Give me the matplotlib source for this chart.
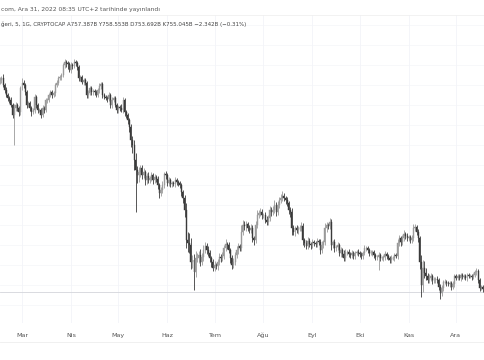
import matplotlib
matplotlib.use("Agg")
import matplotlib.pyplot as plt
import matplotlib.dates as mdates
import numpy as np
from datetime import datetime, timedelta

# daily candles, 15 Feb 2022 -> 18 Dec 2022, market cap in billions
start = datetime(2022, 2, 15)
first_open = 2020
close = [
    2027, 2039, 1997, 1967, 1937, 1919, 1907, 1877, 1817, 1859,
    1877, 1859, 1835, 1979, 2009, 1997, 1955, 1877, 1889, 1859,
    1835, 1847, 1925, 1877, 1847, 1847, 1817, 1859, 1847, 1907,
    1907, 1937, 1955, 1937, 1949, 1997, 2009, 2039, 2045, 2057,
    2117, 2135, 2129, 2123, 2087, 2117, 2111, 2135, 2129, 2105,
    2039, 2045, 2015, 2027, 2009, 1937, 1949, 1979, 1955, 1961,
    1955, 1937, 1967, 1991, 2003, 1937, 1925, 1919, 1913, 1937,
    1877, 1907, 1919, 1877, 1847, 1865, 1859, 1847, 1907, 1835,
    1817, 1787, 1745, 1667, 1637, 1547, 1487, 1457, 1475, 1499,
    1457, 1475, 1427, 1451, 1427, 1439, 1457, 1427, 1445, 1433,
    1397, 1349, 1367, 1397, 1463, 1457, 1409, 1427, 1403, 1409,
    1403, 1427, 1415, 1409, 1397, 1355, 1319, 1247, 1067, 1049,
    1037, 935, 947, 875, 959, 959, 977, 935, 965, 1007,
    1031, 1007, 989, 959, 935, 899, 917, 911, 935, 965,
    959, 971, 1019, 1043, 1037, 1007, 959, 917, 935, 977,
    1007, 1031, 1019, 1115, 1157, 1151, 1163, 1139, 1127, 1139,
    1079, 1067, 1157, 1217, 1229, 1235, 1217, 1217, 1187, 1175,
    1199, 1247, 1235, 1247, 1277, 1235, 1277, 1307, 1319, 1331,
    1319, 1307, 1289, 1247, 1235, 1139, 1115, 1139, 1127, 1139,
    1139, 1151, 1067, 1049, 1031, 1061, 1043, 1037, 1055, 1049,
    1043, 1061, 1055, 1007, 1037, 1055, 1139, 1157, 1151, 1175,
    1037, 1055, 1019, 1025, 1037, 989, 1007, 983, 959, 995,
    995, 983, 977, 989, 971, 989, 995, 989, 983, 971,
    989, 1019, 1019, 1007, 989, 989, 995, 977, 965, 965,
    977, 959, 959, 965, 983, 971, 959, 947, 959, 959,
    977, 971, 1049, 1079, 1055, 1079, 1103, 1091, 1079, 1085,
    1067, 1079, 1139, 1145, 1115, 1079, 935, 797, 899, 869,
    851, 827, 839, 851, 827, 827, 833, 827, 785, 749,
    779, 815, 815, 809, 803, 809, 785, 803, 851, 839,
    851, 839, 857, 845, 851, 839, 857, 851, 851, 845,
    857, 875, 881, 827, 779, 785, 773,
]
upper_wick = [
    20, 15, 25, 12, 18, 10, 15, 20, 12, 25,
    20, 10, 15, 12, 30, 20, 15, 10, 12, 15,
    12, 15, 20, 15, 10, 12, 15, 20, 10, 15,
    10, 15, 12, 10, 15, 12, 20, 10, 15, 12,
    15, 20, 12, 10, 15, 20, 12, 18, 15, 12,
    10, 12, 15, 10, 12, 15, 20, 12, 15, 10,
    12, 10, 15, 20, 12, 15, 10, 12, 15, 20,
    15, 20, 12, 15, 10, 12, 15, 25, 20, 15,
    12, 15, 10, 20, 25, 30, 40, 25, 30, 20,
    20, 25, 15, 20, 25, 15, 20, 15, 20, 15,
    20, 15, 20, 25, 15, 20, 15, 20, 15, 12,
    15, 20, 12, 15, 10, 12, 15, 20, 40, 50,
    60, 40, 30, 35, 40, 30, 25, 35, 25, 30,
    25, 20, 25, 20, 15, 20, 25, 15, 20, 25,
    20, 25, 20, 30, 15, 20, 15, 20, 25, 20,
    25, 20, 15, 40, 30, 25, 20, 15, 20, 25,
    20, 15, 25, 30, 20, 25, 20, 15, 20, 25,
    20, 25, 20, 25, 30, 20, 25, 20, 25, 30,
    20, 15, 20, 15, 20, 25, 20, 15, 20, 15,
    20, 25, 20, 15, 20, 25, 20, 15, 20, 15,
    15, 20, 15, 20, 25, 15, 30, 20, 15, 25,
    20, 15, 20, 15, 20, 15, 20, 15, 25, 20,
    15, 20, 15, 20, 15, 12, 15, 20, 15, 12,
    15, 20, 15, 12, 15, 20, 12, 15, 12, 15,
    20, 15, 12, 15, 20, 15, 12, 15, 20, 12,
    15, 12, 25, 20, 15, 20, 25, 15, 20, 15,
    15, 20, 25, 20, 15, 20, 15, 40, 50, 40,
    30, 20, 25, 20, 15, 20, 15, 20, 15, 20,
    20, 15, 20, 15, 12, 15, 12, 20, 15, 12,
    12, 15, 12, 15, 12, 10, 12, 15, 12, 10,
    12, 15, 20, 12, 15, 10, 12,
]
lower_wick = [
    15, 20, 10, 18, 12, 15, 20, 10, 15, 180,
    20, 15, 25, 18, 12, 20, 15, 18, 10, 20,
    25, 12, 15, 20, 15, 10, 20, 12, 15, 10,
    15, 10, 12, 15, 10, 15, 12, 10, 12, 15,
    12, 15, 25, 30, 10, 15, 20, 12, 15, 20,
    20, 15, 12, 15, 10, 20, 15, 12, 18, 15,
    15, 12, 10, 15, 20, 15, 12, 10, 15, 12,
    20, 15, 12, 10, 15, 20, 15, 12, 20, 25,
    20, 25, 30, 40, 50, 60, 252, 50, 40, 30,
    25, 20, 30, 25, 20, 15, 20, 25, 15, 20,
    25, 30, 20, 15, 20, 25, 20, 15, 20, 15,
    12, 15, 20, 15, 20, 25, 30, 40, 45, 55,
    50, 40, 35, 108, 30, 25, 30, 25, 20, 25,
    20, 25, 20, 25, 30, 20, 15, 20, 25, 20,
    25, 20, 15, 20, 25, 20, 30, 25, 20, 15,
    20, 25, 20, 15, 20, 25, 30, 20, 15, 20,
    25, 30, 20, 15, 20, 15, 25, 20, 15, 20,
    15, 20, 25, 15, 20, 25, 15, 20, 15, 20,
    20, 25, 20, 25, 30, 40, 20, 25, 20, 25,
    20, 15, 30, 25, 20, 15, 20, 25, 20, 15,
    20, 15, 20, 25, 20, 15, 20, 25, 20, 15,
    30, 20, 25, 20, 15, 20, 25, 20, 15, 20,
    20, 15, 20, 15, 20, 15, 12, 15, 20, 15,
    15, 12, 15, 20, 15, 12, 15, 20, 15, 20,
    78, 15, 12, 15, 20, 15, 12, 20, 15, 12,
    15, 12, 15, 20, 25, 15, 20, 15, 20, 15,
    20, 15, 20, 15, 20, 25, 40, 72, 40, 30,
    25, 20, 15, 20, 25, 15, 20, 15, 20, 36,
    20, 15, 12, 15, 12, 15, 20, 12, 15, 12,
    12, 10, 15, 12, 10, 12, 15, 10, 12, 15,
    10, 12, 15, 20, 15, 12, 15,
]
last_close = 755.045
months = ['Mar', 'Nis', 'May', 'Haz', 'Tem', 'Ağu', 'Eyl', 'Eki', 'Kas', 'Ara']
header = 'com, Ara 31, 2022 08:35 UTC+2 tarihinde yayınlandı'
legend = 'ğeri, 5, 1G, CRYPTOCAP A757.387B Y758.553B D753.692B K755.045B −2.342B (−0.31%)'

assert len(close) == len(upper_wick) == len(lower_wick)

close = np.array(close, dtype=float)
opn = np.concatenate([[first_open], close[:-1]])
high = np.maximum(opn, close) + np.array(upper_wick)
low = np.minimum(opn, close) - np.array(lower_wick)
dates = [start + timedelta(days=i) for i in range(len(close))]
x = mdates.date2num(dates)

up_col = '#9a9a9a'
dn_col = '#3a3a3a'
cols = np.where(close >= opn, up_col, dn_col)

fig = plt.figure(figsize=(4.85, 3.6), dpi=100)
ax = fig.add_axes([0, 37 / 360, 1, 308 / 360])

# grid
mar1 = mdates.date2num(datetime(2022, 3, 1))
xl = mar1 - 22 / 1.578
ax.set_xlim(xl, xl + 485 / 1.578)
ax.set_ylim(569, 2417)
for lv in np.arange(1757 - 120 * 10, 2500, 120):
    ax.axhline(lv, color='#f6f7fa', lw=0.6, zorder=0)
month_pos = [mdates.date2num(datetime(2022, m, 1)) for m in range(3, 13)]
for mp in month_pos:
    ax.axvline(mp, color='#f3f4f8', lw=0.6, zorder=0)

# candles
ax.vlines(x, low, high, colors=cols, lw=0.6, zorder=2)
body_lo = np.minimum(opn, close)
body_h = np.maximum(np.abs(close - opn), 3)
ax.bar(x, body_h, bottom=body_lo, width=0.62, color=cols, edgecolor=cols, lw=0.3, zorder=3)

ax.axhline(last_close, color='#d3d5da', lw=0.6, zorder=1)

ax.set_xticks(month_pos)
ax.set_xticklabels(months)
ax.tick_params(axis='x', length=0, pad=7, labelsize=4.6, labelcolor='#555555')
ax.set_yticks([])
for s in ax.spines.values():
    s.set_visible(False)

# separators and texts
fig.add_artist(plt.Line2D([0, 1], [1 - 15 / 360, 1 - 15 / 360], color='#f0f0f0', lw=0.6))
fig.add_artist(plt.Line2D([0, 1], [1 - 342 / 360, 1 - 342 / 360], color='#eeeeee', lw=0.6))
fig.text(1 / 485, 1 - 9 / 360, header, fontsize=4.3, color='#555555', va='center', ha='left')
fig.text(1 / 485, 1 - 24 / 360, legend, fontsize=3.95, color='#444444', va='center', ha='left')

fig.savefig('out.png', dpi=100)
